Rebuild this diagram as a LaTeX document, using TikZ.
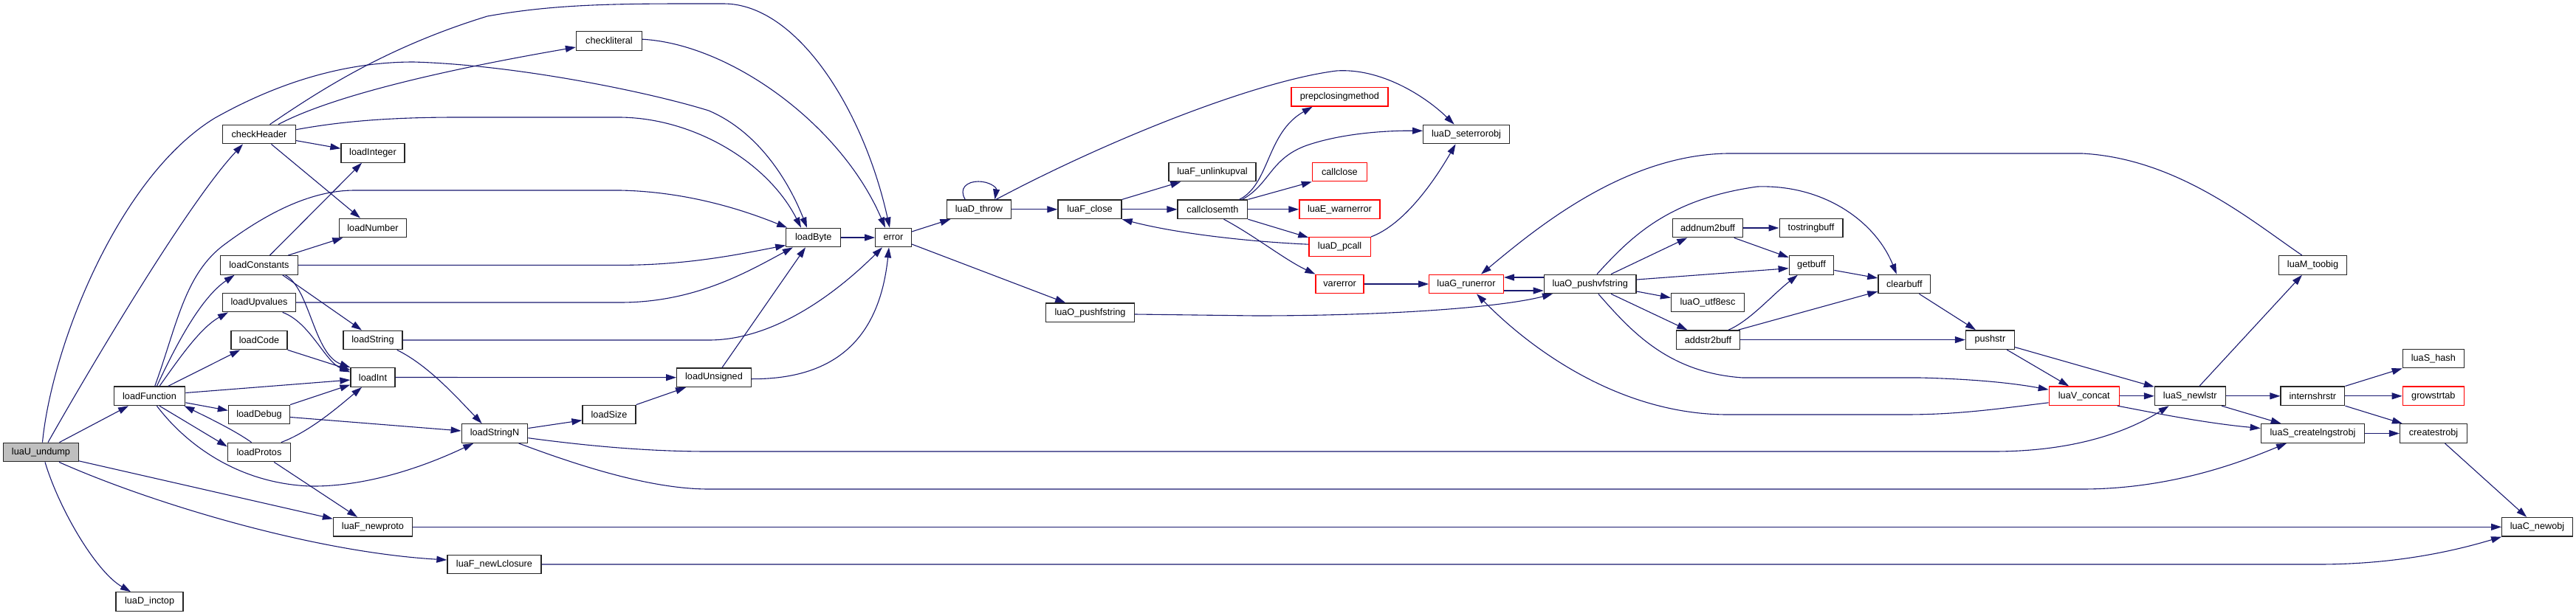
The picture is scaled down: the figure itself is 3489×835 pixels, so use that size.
\documentclass[tikz,border=0pt]{standalone}
\usepackage{fontspec}
\setmainfont{Liberation Sans}
\usetikzlibrary{arrows.meta,calc}
\definecolor{edgec}{HTML}{191970}
\definecolor{rootfill}{HTML}{BFBFBF}
\tikzset{
  fn/.style={draw=black!85, line width=1.3pt, fill=white, minimum height=25.5pt,
    inner xsep=0pt, inner ysep=0pt, font=\fontsize{12.7}{14}\selectfont, anchor=center},
  rfn/.style={fn, draw=red},
  conn/.style={draw=edgec, line width=1.1pt, -{Triangle[length=14pt,width=9pt]}},
}
\begin{document}
\begin{tikzpicture}[x=1pt,y=-1pt]
\useasboundingbox (0,0) rectangle (3489,835);
% nodes
\node[fn, fill=rootfill, minimum width=102pt] (undump) at (55.5,613) {luaU\_undump};
\node[fn, minimum width=99pt] (checkHeader) at (351,182) {checkHeader};
\node[fn, minimum width=86pt] (loadInteger) at (505,207.4) {loadInteger};
\node[fn, minimum width=91pt] (loadNumber) at (505,309) {loadNumber};
\node[fn, minimum width=105pt] (loadConstants) at (351,359.4) {loadConstants};
\node[fn, minimum width=99pt] (loadUpvalues) at (351,410) {loadUpvalues};
\node[fn, minimum width=76pt] (loadCode) at (351,461) {loadCode};
\node[fn, minimum width=80pt] (loadString) at (505,461) {loadString};
\node[fn, minimum width=60pt] (loadInt) at (505,511.5) {loadInt};
\node[fn, minimum width=96.5pt] (loadFunction) at (202.5,536.8) {loadFunction};
\node[fn, minimum width=83pt] (loadDebug) at (351,562) {loadDebug};
\node[fn, minimum width=85pt] (loadProtos) at (351,613) {loadProtos};
\node[fn, minimum width=107pt] (luaFnewproto) at (505,714.3) {luaF\_newproto};
\node[fn, minimum width=91pt] (luaDinctop) at (202.6,815.5) {luaD\_inctop};
\node[fn, minimum width=89pt] (checkliteral) at (825,55.4) {checkliteral};
\node[fn, minimum width=74pt] (loadByte) at (1101.8,322) {loadByte};
\node[fn, minimum width=100.6pt] (loadUnsigned) at (967,511.7) {loadUnsigned};
\node[fn, minimum width=72pt] (loadSize) at (825,562) {loadSize};
\node[fn, minimum width=89.5pt] (loadStringN) at (670,587.5) {loadStringN};
\node[fn, minimum width=127pt] (luaFnewLclosure) at (669.5,765) {luaF\_newLclosure};
\node[fn, minimum width=48.6pt] (error) at (1210,322) {error};
\node[fn, minimum width=87pt] (luaDthrow) at (1326,283.8) {luaD\_throw};
\node[fn, minimum width=86pt] (luaFclose) at (1476,283.8) {luaF\_close};
\node[fn, minimum width=118pt] (luaFunlinkupval) at (1642,233) {luaF\_unlinkupval};
\node[fn, minimum width=94.6pt] (callclosemth) at (1642.4,283.8) {callclosemth};
\node[fn, minimum width=119.4pt] (luaOpushfstring) at (1476.5,423.8) {luaO\_pushfstring};
\node[rfn, minimum width=131pt] (prepclosingmethod) at (1814.4,131.3) {prepclosingmethod};
\node[fn, minimum width=116.7pt] (luaDseterrorobj) at (1986,182) {luaD\_seterrorobj};
\node[rfn, minimum width=74pt] (callclose) at (1814.4,233) {callclose};
\node[rfn, minimum width=109pt] (luaEwarnerror) at (1814.4,283.8) {luaE\_warnerror};
\node[rfn, minimum width=83.4pt] (luaDpcall) at (1814.6,334.4) {luaD\_pcall};
\node[rfn, minimum width=65pt] (varerror) at (1814.6,385) {varerror};
\node[rfn, minimum width=100.6pt] (luaGrunerror) at (1986,385) {luaG\_runerror};
\node[fn, minimum width=124.8pt] (luaOpushvfstring) at (2153.7,385) {luaO\_pushvfstring};
\node[fn, minimum width=95pt] (addnumbuff) at (2313,309) {addnum2buff};
\node[fn, minimum width=99pt] (luaOutfesc) at (2313,410) {luaO\_utf8esc};
\node[fn, minimum width=86pt] (addstrbuff) at (2313.4,460.6) {addstr2buff};
\node[fn, minimum width=85.7pt] (tostringbuff) at (2453,309) {tostringbuff};
\node[fn, minimum width=60.5pt] (getbuff) at (2453.5,359.4) {getbuff};
\node[fn, minimum width=70.8pt] (clearbuff) at (2579.3,385) {clearbuff};
\node[fn, minimum width=65.8pt] (pushstr) at (2695.4,460.6) {pushstr};
\node[rfn, minimum width=95pt] (luaVconcat) at (2822.8,536.8) {luaV\_concat};
\node[fn, minimum width=92.4pt] (luaMtoobig) at (3132.5,359.4) {luaM\_toobig};
\node[fn, minimum width=83pt] (luaShash) at (3295.8,486) {luaS\_hash};
\node[fn, minimum width=95.8pt] (luaSnewlstr) at (2966.3,536.8) {luaS\_newlstr};
\node[fn, minimum width=86.7pt] (internshrstr) at (3132.4,536.8) {internshrstr};
\node[rfn, minimum width=83pt] (growstrtab) at (3295.8,536.8) {growstrtab};
\node[fn, minimum width=140.5pt] (luaScreatelngstrobj) at (3132.5,587.5) {luaS\_createlngstrobj};
\node[fn, minimum width=91pt] (createstrobj) at (3296,587.5) {createstrobj};
\node[fn, minimum width=95.5pt] (luaCnewobj) at (3436.5,714.3) {luaC\_newobj};

% edges from luaU_undump
\draw[conn] ($(undump.north)+(9.5,0)$) .. controls (110,520) and (250,280) .. ($(checkHeader.south)+(-22,0)$);
\draw[conn] ($(undump.north)+(25,0)$) -- ($(loadFunction.south)+(-28.5,0)$);
\draw[conn] ($(undump.south east)+(0,-1.5)$) -- ($(luaFnewproto.west)+(0,-11)$);
\draw[conn] ($(undump.south)+(24.5,0)$) .. controls (200,680) and (420,748) .. ($(luaFnewLclosure.west)+(0,-6)$);
\draw[conn] ($(undump.south)+(5.5,0)$) .. controls (80,690) and (130,775) .. ($(luaDinctop.north)+(-25.6,0)$);
\draw[conn] ($(undump.north)+(2,0)$) .. controls (70,470) and (160,240) .. (291,160) .. controls (380,110) and (470,84) .. (560,84) .. controls (700,88) and (880,125) .. (960,150) .. controls (1030,180) and (1070,250) .. ($(loadByte.north)+(-8.8,0)$);

% checkHeader
\draw[conn] ($(checkHeader.north)+(14.5,0)$) .. controls (430,125) and (520,65) .. (660,22) .. controls (760,4) and (850,5) .. (980,5) .. controls (1080,5) and (1170,150) .. ($(error.north)+(-5,0)$);
\draw[conn] ($(checkHeader.north)+(26,0)$) .. controls (450,130) and (600,95) .. ($(checkliteral.west)+(0,8.6)$);
\draw[conn] ($(checkHeader.east)+(0,-6.3)$) .. controls (470,163) and (540,159) .. (620,159) -- (840,159) .. controls (940,160) and (1040,220) .. ($(loadByte.north)+(-16.8,0)$);
\draw[conn] ($(checkHeader.east)+(0,8.6)$) -- ($(loadInteger.west)+(0,-6.1)$);
\draw[conn] ($(checkHeader.south)+(16.4,0)$) -- ($(loadNumber.north)+(-17,0)$);

% loadConstants
\draw[conn] ($(loadConstants.north)+(14.5,0)$) -- ($(loadInteger.south)+(-15,0)$);
\draw[conn] ($(loadConstants.north)+(39.4,0)$) -- ($(loadNumber.south west)+(5.5,0)$);
\draw[conn] ($(loadConstants.south)+(31.7,0)$) -- ($(loadString.north)+(-15,0)$);
\draw[conn] ($(loadConstants.south)+(35.5,0)$) .. controls (420,392) and (425,480) .. (loadInt.north west);
\draw[conn] (loadConstants.east) -- (840,359.4) .. controls (930,359.4) and (1000,345) .. ($(loadByte.west)+(0,10.5)$);

% loadUpvalues
\draw[conn] (loadUpvalues.east) -- (840,410) .. controls (940,410) and (1010,370) .. ($(loadByte.south)+(-28,0)$);
\draw[conn] ($(loadUpvalues.south)+(31.7,0)$) .. controls (420,437) and (440,490) .. ($(loadInt.west)+(0,-7)$);

% loadCode, loadFunction, loadDebug, loadProtos -> loadInt
\draw[conn] (loadCode.south east) -- ($(loadInt.west)+(0,-10)$);
\draw[conn] ($(loadFunction.east)+(0,-4.3)$) -- ($(loadInt.west)+(0,3.5)$);
\draw[conn] (loadDebug.north east) -- ($(loadInt.west)+(0,10)$);
\draw[conn] ($(loadProtos.north)+(29.8,0)$) .. controls (420,585) and (460,550) .. ($(loadInt.south)+(-15,0)$);

% loadString
\draw[conn] ($(loadString.south)+(32.7,0)$) .. controls (580,495) and (620,540) .. ($(loadStringN.north)+(-17.3,0)$);
\draw[conn] (loadString.east) -- (960,461) .. controls (1060,461) and (1150,380) .. ($(error.south west)+(10,0)$);

% loadUnsigned etc
\draw[conn] ($(loadUnsigned.east)+(0,2)$) .. controls (1120,514) and (1190,470) .. ($(error.south)+(-6,0)$);
\draw[conn] (loadInt.east) -- (loadUnsigned.west);
\draw[conn] ($(loadUnsigned.north)+(11,0)$) -- ($(loadByte.south)+(-10.8,0)$);
\draw[conn] (loadSize.north east) -- ($(loadUnsigned.south west)+(13,0)$);
\draw[conn] ($(loadStringN.east)+(0,-7)$) -- ($(loadSize.west)+(0,7.7)$);
\draw[conn] ($(loadStringN.east)+(0,6.2)$) .. controls (800,605) and (880,612) .. (960,612) -- (2700,612) .. controls (2820,612) and (2890,580) .. ($(luaSnewlstr.south)+(-28.7,0)$);
\draw[conn] ($(loadStringN.south)+(32.5,0)$) .. controls (780,630) and (880,663) .. (960,663) -- (2820,663) .. controls (2950,663) and (3050,620) .. ($(luaScreatelngstrobj.south)+(-35.5,0)$);
\draw[conn] (luaFnewproto.east) -- (luaCnewobj.west);
\draw[conn] (luaFnewLclosure.east) -- (3140,765) .. controls (3250,765) and (3330,745) .. (luaCnewobj.south west);

% loadFunction
\draw[conn] ($(loadFunction.north)+(7.2,0)$) .. controls (240,440) and (250,370) .. (306,330) .. controls (360,290) and (420,258) .. (480,258) -- (840,258) .. controls (940,260) and (1020,290) .. ($(loadByte.north west)+(2,0)$);
\draw[conn] ($(loadFunction.north)+(9.9,0)$) .. controls (235,475) and (270,405) .. ($(loadConstants.south)+(-33.4,0)$);
\draw[conn] ($(loadFunction.north)+(13.5,0)$) .. controls (240,490) and (270,445) .. ($(loadUpvalues.south)+(-42,0)$);
\draw[conn] ($(loadFunction.north)+(25.2,0)$) -- ($(loadCode.south)+(-25.7,0)$);
\draw[conn] ($(loadFunction.east)+(0,9)$) -- ($(loadDebug.west)+(0,-5.6)$);
\draw[conn] ($(loadFunction.south)+(13.5,0)$) -- ($(loadProtos.west)+(0,-7.6)$);
\draw[conn] ($(loadProtos.north)+(-10.4,0)$) .. controls (320,585) and (290,570) .. ($(loadFunction.south east)+(-2,0)$);
\draw[conn] ($(loadFunction.south)+(9.9,0)$) .. controls (250,600) and (320,655) .. (420,659) .. controls (500,660) and (580,630) .. ($(loadStringN.south)+(-28.8,0)$);
\draw[conn] ($(loadDebug.east)+(0,3.5)$) -- ($(loadStringN.west)+(0,-3.5)$);
\draw[conn] ($(loadProtos.south)+(20.2,0)$) -- ($(luaFnewproto.north)+(-20.9,0)$);

% error region
\draw[conn] (loadByte.east) -- (error.west);
\draw[conn] ($(checkliteral.east)+(0,-2.2)$) .. controls (990,60) and (1140,170) .. ($(error.north)+(-11,0)$);
\draw[conn] ($(error.east)+(0,-8)$) -- ($(luaDthrow.south west)+(5.5,0)$);
\draw[conn] ($(error.east)+(0,9)$) -- ($(luaOpushfstring.north)+(-33.3,0)$);
\draw[conn] ($(luaDthrow.north)+(-18.7,0)$) .. controls (1298,255) and (1310,246) .. (1325,246) .. controls (1340,246) and (1350,254) .. ($(luaDthrow.north)+(21.5,0)$);
\draw[conn] ($(luaDthrow.north)+(23,0)$) .. controls (1500,190) and (1700,110) .. (1810,96) .. controls (1870,92) and (1930,130) .. ($(luaDseterrorobj.north)+(-16.4,0)$);
\draw[conn] (luaDthrow.east) -- (luaFclose.west);
\draw[conn] (luaFclose.north east) -- ($(luaFunlinkupval.south west)+(17,0)$);
\draw[conn] (luaFclose.east) -- (callclosemth.west);
\draw[conn] ($(luaDpcall.west)+(0,-3.2)$) .. controls (1700,328) and (1600,318) .. (luaFclose.south east);
\draw[conn] ($(callclosemth.north)+(36.2,0)$) .. controls (1720,250) and (1715,180) .. ($(prepclosingmethod.south west)+(29.4,0)$);
\draw[conn] ($(callclosemth.north)+(40,0)$) .. controls (1720,250) and (1720,215) .. (1770,197) .. controls (1820,180) and (1880,177) .. ($(luaDseterrorobj.west)+(0,-4.7)$);
\draw[conn] (callclosemth.north east) -- (callclose.south west);
\draw[conn] (callclosemth.east) -- (luaEwarnerror.west);
\draw[conn] (callclosemth.south east) -- ($(luaDpcall.west)+(0,-12.4)$);
\draw[conn] ($(callclosemth.south)+(15.1,0)$) .. controls (1700,320) and (1740,352) .. (varerror.north west);
\draw[conn] ($(luaOpushfstring.east)+(0,2.2)$) -- (1700,428) .. controls (1900,428) and (2040,415) .. ($(luaOpushvfstring.south west)+(12.3,0)$);
\draw[conn] (luaDpcall.north east) .. controls (1900,305) and (1940,250) .. ($(luaDseterrorobj.south)+(-14.5,0)$);
\draw[conn] (varerror.east) -- (luaGrunerror.west);
\draw[conn] ($(luaGrunerror.east)+(0,9)$) -- ($(luaOpushvfstring.west)+(0,9)$);
\draw[conn] ($(luaOpushvfstring.west)+(0,-9)$) -- ($(luaGrunerror.east)+(0,-9)$);

% luaO_pushvfstring
\draw[conn] ($(luaOpushvfstring.north)+(28.3,0)$) -- ($(addnumbuff.south)+(-27.7,0)$);
\draw[conn] ($(luaOpushvfstring.east)+(0,-6)$) -- ($(getbuff.west)+(0,4.3)$);
\draw[conn] ($(luaOpushvfstring.east)+(0,10)$) -- ($(luaOutfesc.west)+(0,-6.4)$);
\draw[conn] ($(luaOpushvfstring.south)+(28.3,0)$) -- ($(addstrbuff.north)+(-28.1,0)$);
\draw[conn] ($(luaOpushvfstring.north)+(9.2,0)$) .. controls (2210,320) and (2260,270) .. (2380,253) .. controls (2470,250) and (2540,300) .. ($(clearbuff.north)+(-10.5,0)$);
\draw[conn] ($(luaOpushvfstring.south)+(11.1,0)$) .. controls (2210,450) and (2260,505) .. (2360,512) -- (2600,512) .. controls (2680,514) and (2730,520) .. ($(luaVconcat.west)+(0,-8.6)$);
\draw[conn] ($(luaMtoobig.north)+(-14.6,0)$) .. controls (3050,300) and (2950,215) .. (2820,208) -- (2340,208) .. controls (2200,210) and (2080,310) .. ($(luaGrunerror.north)+(20,0)$);
\draw[conn] ($(luaVconcat.west)+(0,9)$) .. controls (2700,555) and (2650,562) .. (2580,562) -- (2340,562) .. controls (2200,562) and (2080,480) .. ($(luaGrunerror.south)+(14,0)$);

% buffers
\draw[conn] (addnumbuff.east) -- (tostringbuff.west);
\draw[conn] ($(addnumbuff.south)+(35.7,0)$) -- ($(getbuff.west)+(0,-10.5)$);
\draw[conn] ($(getbuff.east)+(0,7)$) -- ($(clearbuff.west)+(0,-8)$);
\draw[conn] ($(addstrbuff.north)+(27.6,0)$) .. controls (2370,435) and (2400,400) .. ($(getbuff.south)+(-18.7,0)$);
\draw[conn] ($(addstrbuff.north)+(41,0)$) -- ($(clearbuff.west)+(0,10)$);
\draw[conn] (addstrbuff.east) -- (pushstr.west);
\draw[conn] ($(clearbuff.south)+(20.1,0)$) -- ($(pushstr.north)+(-19.4,0)$);
\draw[conn] ($(pushstr.south)+(22.6,0)$) -- ($(luaVconcat.north)+(-20.6,0)$);
\draw[conn] ($(pushstr.east)+(0,10)$) -- ($(luaSnewlstr.north west)+(0,1)$);
\draw[conn] (luaVconcat.east) -- (luaSnewlstr.west);
\draw[conn] ($(luaVconcat.south east)+(-3,0)$) .. controls (2900,556) and (2980,573) .. ($(luaScreatelngstrobj.west)+(0,-7)$);

% strings
\draw[conn] ($(luaSnewlstr.north)+(12.6,0)$) -- ($(luaMtoobig.south)+(-14.6,0)$);
\draw[conn] (luaSnewlstr.east) -- (internshrstr.west);
\draw[conn] ($(luaSnewlstr.south)+(42.7,0)$) -- ($(luaScreatelngstrobj.north)+(-42.8,0)$);
\draw[conn] (internshrstr.north east) -- (luaShash.south west);
\draw[conn] (internshrstr.east) -- (growstrtab.west);
\draw[conn] (internshrstr.south east) -- ($(createstrobj.north west)+(4,0)$);
\draw[conn] (luaScreatelngstrobj.east) -- (createstrobj.west);
\draw[conn] ($(createstrobj.south)+(15.4,0)$) -- ($(luaCnewobj.north)+(-14.3,0)$);
\end{tikzpicture}
\end{document}
